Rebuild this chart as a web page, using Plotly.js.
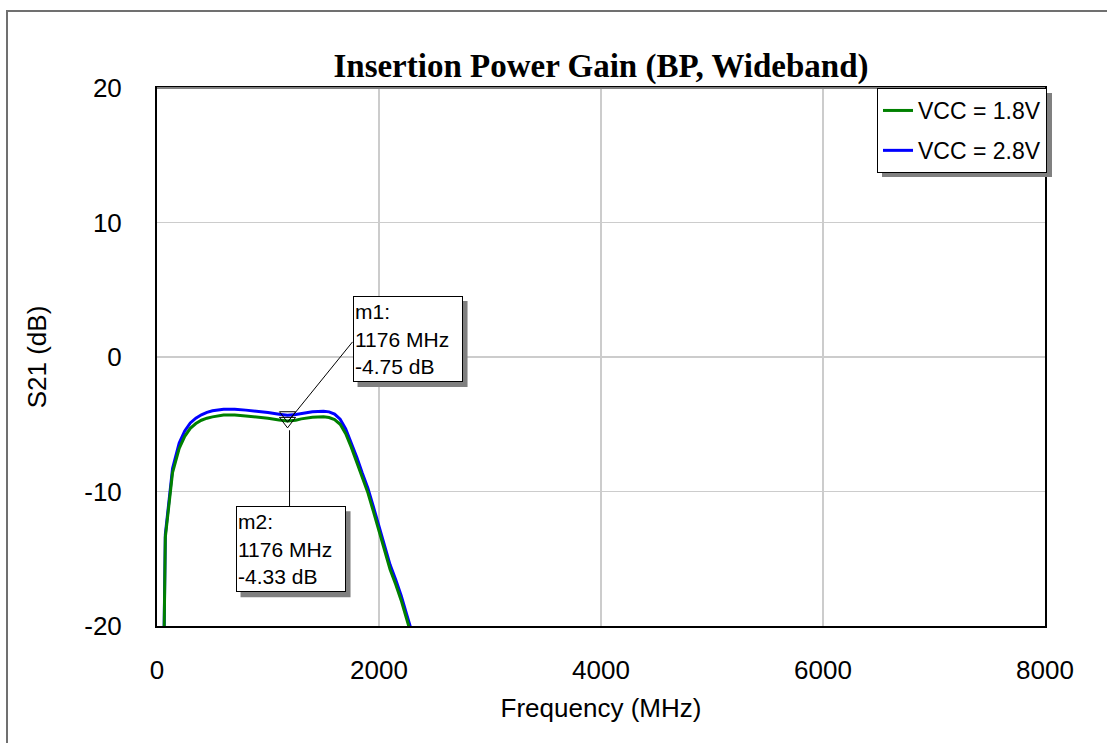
<!DOCTYPE html>
<html>
<head>
<meta charset="utf-8">
<script src="https://cdn.plot.ly/plotly-3.0.1.min.js"></script>
<style>html,body{margin:0;padding:0;background:#fff}#chart{width:1107px;height:743px}</style>
</head>
<body>
<div id="chart"></div>
<script>
// ---- data ----
const freqMHz = [50, 75, 140, 200, 250, 300, 350, 400, 450, 500, 600, 700, 800, 900, 1000, 1100, 1176, 1250, 1300, 1400, 1500, 1550, 1600, 1650, 1700, 1750, 1800, 1850, 1900, 1950, 2000, 2050, 2100, 2150, 2200, 2250, 2300];
const s21_vcc18 = [-30, -13.4, -8.6, -6.8, -5.9, -5.3, -4.95, -4.7, -4.55, -4.45, -4.32, -4.32, -4.38, -4.45, -4.55, -4.68, -4.75, -4.7, -4.6, -4.48, -4.45, -4.5, -4.65, -5.0, -5.7, -6.7, -7.8, -9.0, -10.1, -11.5, -13.0, -14.4, -15.8, -16.9, -18.1, -19.5, -20.9];
const s21_vcc28 = [-29.5, -13.2, -8.3, -6.4, -5.5, -4.9, -4.55, -4.3, -4.12, -4.0, -3.88, -3.88, -3.95, -4.03, -4.13, -4.26, -4.33, -4.28, -4.2, -4.07, -4.03, -4.08, -4.25, -4.62, -5.35, -6.35, -7.45, -8.65, -9.75, -11.15, -12.65, -14.05, -15.45, -16.55, -17.75, -19.15, -20.55];
const seriesNames = ["VCC = 1.8V", "VCC = 2.8V"];
const markerNames = ["m1", "m2"];
const markerFreq = [1176, 1176];
const markerDb = [-4.75, -4.33];
const xTicks = [0, 2000, 4000, 6000, 8000];
const yTicks = [-20, -10, 0, 10, 20];

// ---- layout helpers (pixel -> paper) ----
const W = 1107, H = 743;
const M = {l: 157, r: 62, t: 88, b: 117};
const PW = W - M.l - M.r, PH = H - M.t - M.b;
const px = x => (x - M.l) / PW;
const py = y => (H - M.b - y) / PH;

const traces = [
  {x: freqMHz, y: s21_vcc28, name: seriesNames[1], mode: "lines", line: {color: "#0000ff", width: 3}, legendgroup: "b", legendrank: 2},
  {x: freqMHz, y: s21_vcc18, name: seriesNames[0], mode: "lines", line: {color: "#008000", width: 3}, legendgroup: "a", legendrank: 1},
  {x: markerFreq, y: markerDb, mode: "markers", showlegend: false, hoverinfo: "skip",
   marker: {symbol: "triangle-down-open", size: 14, color: "#000", line: {width: 1, color: "#000"}}}
];

const boxText = i => markerNames[i] + ":<br>" + markerFreq[i] + " MHz<br>" + markerDb[i].toFixed(2) + " dB";
// box placement relative to its marker, in pixels (dx right, dy up)
const boxOff = [{dx: 120, dy: 82}, {dx: 3, dy: -134}];
const boxW = 110, boxH = 86, shadow = 5;
const annotations = [];
const shapes = [
  // outer frame
  {type: "rect", xref: "paper", yref: "paper", x0: px(7), y0: py(11), x1: px(1200), y1: py(800),
   line: {color: "#707070", width: 2}, layer: "below"},
  // top border of plot (gray)
  {type: "line", xref: "paper", yref: "paper", x0: 0, x1: 1, y0: 1, y1: 1, line: {color: "#808080", width: 2}},
  // legend shadow
  {type: "rect", xref: "paper", yref: "paper", x0: px(882), x1: px(1052), y0: py(93), y1: py(177),
   fillcolor: "#808080", line: {width: 0}, layer: "above"},
  // marker leader lines
  {type: "line", xref: "x", yref: "y", xsizemode: "pixel", ysizemode: "pixel",
   xanchor: markerFreq[0], yanchor: markerDb[0], x0: 1, y0: 0, x1: 65, y1: 79, line: {color: "#000", width: 1}},
  {type: "line", xref: "x", yref: "y", xsizemode: "pixel", ysizemode: "pixel",
   xanchor: markerFreq[1], yanchor: markerDb[1], x0: 2, y0: -15, x1: 2, y1: -92, line: {color: "#000", width: 1}}
];
for (let i = 0; i < 2; i++) {
  const o = boxOff[i];
  shapes.push({type: "rect", xref: "x", yref: "y", xsizemode: "pixel", ysizemode: "pixel",
    xanchor: markerFreq[i], yanchor: markerDb[i],
    x0: o.dx - boxW / 2 + shadow, x1: o.dx + boxW / 2 + shadow,
    y0: o.dy - boxH / 2 - shadow, y1: o.dy + boxH / 2 - shadow,
    fillcolor: "#808080", line: {width: 0}, layer: "above"});
  annotations.push({x: markerFreq[i], y: markerDb[i], xref: "x", yref: "y", showarrow: false,
    xanchor: "center", yanchor: "middle", xshift: o.dx, yshift: o.dy,
    width: boxW - 4, height: boxH - 4, align: "left", valign: "middle",
    borderpad: 1, borderwidth: 1, bordercolor: "#000", bgcolor: "#fff",
    text: boxText(i), font: {family: "Liberation Sans, Arial", size: 21, color: "#000"}});
}

const layout = {
  width: W, height: H,
  margin: M,
  paper_bgcolor: "#fff", plot_bgcolor: "#fff",
  font: {family: "Liberation Sans, Arial", color: "#000", size: 26},
  title: {text: "<b>Insertion Power Gain (BP, Wideband)</b>", font: {family: "Liberation Serif, Times New Roman", size: 33, color: "#000"},
          x: px(601), xref: "paper", xanchor: "center", y: 1 - 65 / H, yref: "container", yanchor: "middle"},
  xaxis: {range: [0, 8000], tickvals: xTicks, ticktext: xTicks.map(String), ticks: "", ticklabelstandoff: 20,
          showgrid: true, gridcolor: "#cccccc", gridwidth: 1.5, zeroline: false,
          showline: true, linecolor: "#000", linewidth: 2, mirror: true,
          title: {text: "Frequency (MHz)", font: {size: 26}, standoff: 15}},
  yaxis: {range: [-20, 20], tickvals: yTicks, ticktext: yTicks.map(String), ticks: "", ticklabelstandoff: 28,
          showgrid: true, gridcolor: "#cccccc", gridwidth: 1.5, zeroline: false,
          showline: true, linecolor: "#000", linewidth: 2, mirror: true,
          title: {text: "S21 (dB)", font: {size: 26}, standoff: 30}},
  legend: {x: px(1047), y: 1, xanchor: "right", yanchor: "top", bgcolor: "#fff", bordercolor: "#000", borderwidth: 1,
           font: {size: 23}, traceorder: "grouped", tracegroupgap: 7, itemwidth: 30},
  showlegend: true,
  annotations: annotations,
  shapes: shapes
};

Plotly.newPlot("chart", traces, layout, {staticPlot: true, displayModeBar: false});
</script>
</body>
</html>
